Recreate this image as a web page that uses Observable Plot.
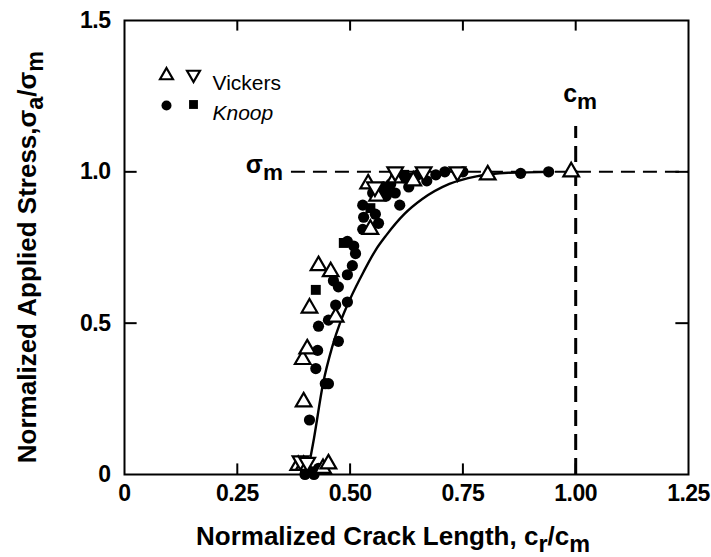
<!DOCTYPE html>
<html>
<head>
<meta charset="utf-8">
<script src="https://cdn.jsdelivr.net/npm/d3@7"></script>
<script src="https://cdn.jsdelivr.net/npm/@observablehq/plot@0.6"></script>
<style>
  html, body { margin: 0; padding: 0; background: #fff; }
  #chart { width: 711px; height: 557px; }
  #chart g[aria-label="x-axis tick label"] text,
  #chart g[aria-label="y-axis tick label"] text {
    font-family: 'Liberation Sans Narrow', 'Liberation Sans', Arial, sans-serif;
    font-weight: bold; font-size: 23px; letter-spacing: -0.5px;
  }
</style>
</head>
<body>
<div id="chart"></div>
<script>
// ---- data ----
const xTicks = [0, 0.25, 0.5, 0.75, 1.0, 1.25];
const xTickLabels = ["0", "0.25", "0.50", "0.75", "1.00", "1.25"];
const yTicks = [0, 0.5, 1.0, 1.5];
const yTickLabels = ["0", "0.5", "1.0", "1.5"];

// Vickers, open up-triangles
const vickersUpX = [0.385, 0.397, 0.44, 0.452, 0.397, 0.395, 0.405, 0.41, 0.43, 0.457, 0.468, 0.545, 0.54, 0.56, 0.60, 0.64, 0.805, 0.99];
const vickersUpY = [0.03, 0.03, 0.02, 0.035, 0.24, 0.38, 0.415, 0.55, 0.69, 0.67, 0.52, 0.81, 0.96, 0.92, 0.98, 0.97, 0.99, 1.0];
// Vickers, open down-triangles
const vickersDownX = [0.39, 0.405, 0.555, 0.60, 0.663, 0.738];
const vickersDownY = [0.045, 0.04, 0.95, 1.0, 1.0, 1.0];
// Knoop, filled circles
const knoopCircX = [0.40, 0.41, 0.42, 0.43, 0.41, 0.424, 0.445, 0.452, 0.428, 0.474, 0.43, 0.452, 0.468, 0.494, 0.474, 0.463, 0.494, 0.505, 0.512, 0.494, 0.508, 0.528, 0.53, 0.528, 0.556, 0.563, 0.61, 0.55, 0.575, 0.59, 0.62, 0.63, 0.65, 0.67, 0.69, 0.71, 0.75, 0.878, 0.94, 0.58, 0.60];
const knoopCircY = [0.0, 0.01, 0.0, 0.02, 0.18, 0.35, 0.30, 0.30, 0.41, 0.44, 0.49, 0.51, 0.56, 0.57, 0.62, 0.64, 0.66, 0.69, 0.73, 0.77, 0.755, 0.81, 0.85, 0.89, 0.86, 0.83, 0.89, 0.93, 0.95, 0.96, 0.98, 0.95, 0.99, 0.97, 0.99, 1.0, 1.0, 0.995, 1.0, 0.92, 0.93];
// Knoop, filled squares
const knoopSqX = [0.40, 0.41, 0.424, 0.486, 0.545, 0.56, 0.58, 0.60, 0.62, 0.64];
const knoopSqY = [0.02, 0.01, 0.61, 0.765, 0.88, 0.93, 0.93, 0.99, 0.99, 0.98];
// Solid curve (read points)
const curveX = [0.405, 0.42, 0.44, 0.46, 0.48, 0.50, 0.53, 0.556, 0.58, 0.62, 0.66, 0.72, 0.78, 0.85, 0.95];
const curveY = [0.0, 0.12, 0.30, 0.42, 0.51, 0.58, 0.67, 0.74, 0.79, 0.86, 0.91, 0.96, 0.985, 0.997, 1.0];
// Reference lines
const sigmaM = 1.0, sigmaLineStart = 0.37;
const cM = 1.0, cLineTop = 1.15;

const legendItems = ["Vickers", "Knoop"];

// ---- build ----
const xDomain = [0, 1.25], yDomain = [0, 1.5];
const toRows = (xs, ys) => xs.map((x, i) => ({x, y: ys[i]}));
const mL = 124, mR = 23, mT = 20, mB = 83;
const W = 711, H = 557;
const tickLenX = 0.035, tickLenY = 0.028;

const plot = Plot.plot({
  width: W, height: H,
  marginLeft: mL, marginRight: mR, marginTop: mT, marginBottom: mB,
  x: {domain: xDomain},
  y: {domain: yDomain},
  style: {fontFamily: "'Liberation Sans', Arial, sans-serif", fontSize: "20px", color: "#000", background: "#fff", overflow: "visible"},
  marks: [
    Plot.frame({stroke: "#000", strokeWidth: 2}),
    // inward ticks
    Plot.ruleX(xTicks.slice(1, -1), {y1: yDomain[0], y2: yDomain[0] + tickLenX, stroke: "#000", strokeWidth: 2}),
    Plot.ruleX(xTicks.slice(1, -1), {y1: yDomain[1], y2: yDomain[1] - tickLenX, stroke: "#000", strokeWidth: 2}),
    Plot.ruleY(yTicks.slice(1, -1), {x1: xDomain[0], x2: xDomain[0] + tickLenY, stroke: "#000", strokeWidth: 2}),
    Plot.ruleY(yTicks.slice(1, -1), {x1: xDomain[1], x2: xDomain[1] - tickLenY, stroke: "#000", strokeWidth: 2}),
    Plot.axisX(xTicks, {label: null, tickSize: 0, tickPadding: 10, tickFormat: (d, i) => xTickLabels[i]}),
    Plot.axisY(yTicks, {label: null, tickSize: 0, tickPadding: 14, tickFormat: (d, i) => yTickLabels[i]}),
    // dashed reference lines
    Plot.ruleY([sigmaM], {x1: sigmaLineStart, x2: xDomain[1], stroke: "#000", strokeWidth: 2, strokeDasharray: "14,8"}),
    Plot.ruleX([cM], {y1: 0, y2: cLineTop, stroke: "#000", strokeWidth: 3, strokeDasharray: "16,8"}),
    // fitted curve
    Plot.line(toRows(curveX, curveY), {x: "x", y: "y", curve: "monotone-x", stroke: "#000", strokeWidth: 2.4}),
    // data
    Plot.dot(toRows(knoopCircX, knoopCircY), {x: "x", y: "y", r: 5.6, fill: "#000", stroke: "none"}),
    Plot.dot(toRows(knoopSqX, knoopSqY), {x: "x", y: "y", symbol: "square", r: 5.6, fill: "#000", stroke: "none"}),
    Plot.dot(toRows(vickersUpX, vickersUpY), {x: "x", y: "y", symbol: "triangle", r: 5.8, fill: "#fff", stroke: "#000", strokeWidth: 2.2}),
    Plot.dot(toRows(vickersDownX, vickersDownY), {x: "x", y: "y", symbol: "triangle", rotate: 180, r: 5.8, fill: "#fff", stroke: "#000", strokeWidth: 2.2}),
    // legend (inside frame)
    Plot.dot([legendItems[0]], {frameAnchor: "top-left", dx: 42, dy: 55, symbol: "triangle", r: 4.8, fill: "#fff", stroke: "#000", strokeWidth: 2.2}),
    Plot.dot([legendItems[0]], {frameAnchor: "top-left", dx: 69, dy: 54, symbol: "triangle", rotate: 180, r: 4.8, fill: "#fff", stroke: "#000", strokeWidth: 2.2}),
    Plot.dot([legendItems[1]], {frameAnchor: "top-left", dx: 42, dy: 85, r: 5, fill: "#000"}),
    Plot.dot([legendItems[1]], {frameAnchor: "top-left", dx: 69, dy: 84, symbol: "square", r: 5, fill: "#000"}),
    Plot.text([legendItems[0]], {text: d => d, frameAnchor: "top-left", dx: 88, dy: 55, textAnchor: "start", fontSize: 21, fontWeight: "normal", fontFamily: "'Liberation Sans', Arial, sans-serif", style: "letter-spacing:2px"}),
    Plot.text([legendItems[1]], {text: d => d, frameAnchor: "top-left", dx: 88, dy: 85, textAnchor: "start", fontSize: 21, fontWeight: "normal", fontStyle: "italic", fontFamily: "'Liberation Sans', Arial, sans-serif", style: "letter-spacing:1px"})
  ]
});

document.getElementById("chart").appendChild(plot);

// ---- titles and labels with subscripts, placed through Plot's scales ----
const svg = d3.select(plot);
const sx = plot.scale("x"), sy = plot.scale("y");
const titleFont = "'Liberation Sans', Arial, sans-serif";

function addSubText(g, parts) {
  parts.forEach(p => {
    const t = g.append("tspan").text(p.t);
    if (p.sub) t.attr("baseline-shift", "-32%").attr("font-size", "0.9em");
  });
}

// x title
const xt = svg.append("text")
  .attr("x", (sx.apply(xDomain[0]) + sx.apply(xDomain[1])) / 2 - 13)
  .attr("y", H - 12)
  .attr("text-anchor", "middle")
  .attr("font-family", titleFont).attr("font-weight", "bold").attr("font-size", 26);
addSubText(xt, [{t: "Normalized Crack Length, c"}, {t: "r", sub: true}, {t: "/c"}, {t: "m", sub: true}]);

// y title
const yc = (sy.apply(yDomain[0]) + sy.apply(yDomain[1])) / 2 + 10;
const yt = svg.append("text")
  .attr("transform", `translate(36,${yc}) rotate(-90)`)
  .attr("text-anchor", "middle")
  .attr("font-family", titleFont).attr("font-weight", "bold").attr("font-size", 26);
addSubText(yt, [{t: "Normalized Applied Stress,σ"}, {t: "a", sub: true}, {t: "/σ"}, {t: "m", sub: true}]);

// sigma_m label
const sl = svg.append("text")
  .attr("x", sx.apply(sigmaLineStart) - 8)
  .attr("y", sy.apply(sigmaM) + 2)
  .attr("text-anchor", "end")
  .attr("font-family", titleFont).attr("font-weight", "bold").attr("font-size", 25);
addSubText(sl, [{t: "σ"}, {t: "m", sub: true}]);

// c_m label
const cl = svg.append("text")
  .attr("x", sx.apply(cM) - 12)
  .attr("y", sy.apply(cLineTop) - 24)
  .attr("text-anchor", "start")
  .attr("font-family", titleFont).attr("font-weight", "bold").attr("font-size", 25);
addSubText(cl, [{t: "c"}, {t: "m", sub: true}]);
</script>
</body>
</html>
